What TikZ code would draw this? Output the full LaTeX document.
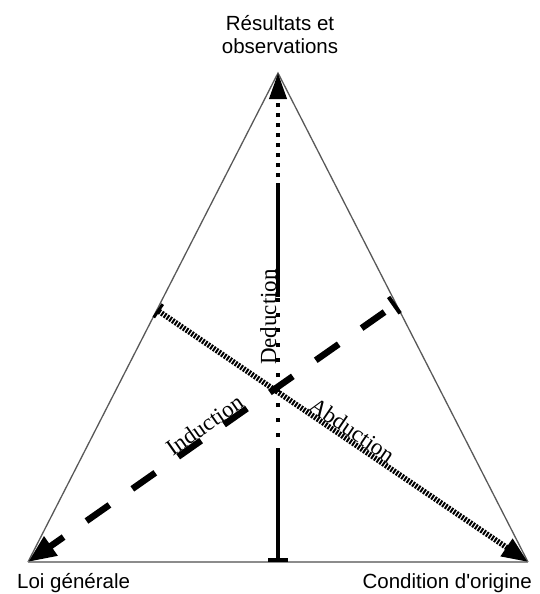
\documentclass[tikz,border=0pt]{standalone}
\usepackage{fontspec}
\setmainfont{Liberation Serif}
\newfontfamily\lblfont{Liberation Sans}
\usetikzlibrary{arrows.meta}
\begin{document}
\begin{tikzpicture}[x=1pt,y=-1pt,
  edge/.style={draw=black!65, line width=1.3pt},
  baseedge/.style={draw=black!45, line width=2.5pt},
  vsolid/.style={line width=4pt, draw=black},
  vdots/.style={line width=4pt, draw=black, dash pattern=on 4pt off 6pt},
  vdotsw/.style={line width=4pt, draw=black, dash pattern=on 4pt off 11pt},
  ind/.style={line width=6.5pt, draw=black, dash pattern=on 28pt off 28pt, dash phase=45pt},
  abd/.style={line width=5.5pt, draw=black, dash pattern=on 2pt off 1.3pt},
  lbl/.style={font={\lblfont\fontsize{20.5}{23}\selectfont}, inner sep=0pt},
  rlbl/.style={font={\fontsize{23}{27}\selectfont}, inner sep=0pt, anchor=base},
]
\useasboundingbox (0,0) rectangle (540,594);
% corners
\coordinate (A) at (278,73);
\coordinate (BL) at (28,562);
\coordinate (BR) at (528,562);
\coordinate (B) at (278,562);
% vertical breakpoints
\coordinate (v1) at (278,452);
\coordinate (v2) at (278,297);
\coordinate (v3) at (278,187);
% diagonal starts
\coordinate (abdS) at (157,310);
\coordinate (indS) at (396,304);
% triangle
\draw[edge] (BL) -- (A) -- (BR);
\draw[baseedge] (BL) -- (BR);
% deduction (vertical)
\draw[vsolid, {Bar[width=20pt,line width=4pt]}-] (B) -- (v1);
\draw[vdotsw] (v1) -- (v2);
\draw[vsolid] (v2) -- (v3);
\draw[vdots, -{Triangle[length=26pt,width=17pt]}] (v3) -- (A);
% abduction
\draw[abd, {Bar[width=16pt,line width=3pt]}-{Triangle[length=26pt,width=20pt]}] (abdS) -- (BR);
% induction
\draw[ind, {Bar[width=20pt,line width=4pt]}-{Triangle[length=28pt,width=22pt]}] (indS) -- (BL);
% labels on lines
\node[rlbl, rotate=90] (ded) at (276,317) {Deduction};
\node[rlbl, rotate=35] (indt) at (209,431.5) {Induction};
\node[rlbl, rotate=-34.3] (abdt) at (347.7,436.5) {Abduction};
% corner labels
\node[lbl, align=center, anchor=base] (top) at (280,53) {Résultats et\\observations};
\node[lbl, anchor=base west] (loi) at (17,588) {Loi générale};
\node[lbl, anchor=base east] (cond) at (532,588) {Condition d\symbol{39}origine};
\end{tikzpicture}
\end{document}
